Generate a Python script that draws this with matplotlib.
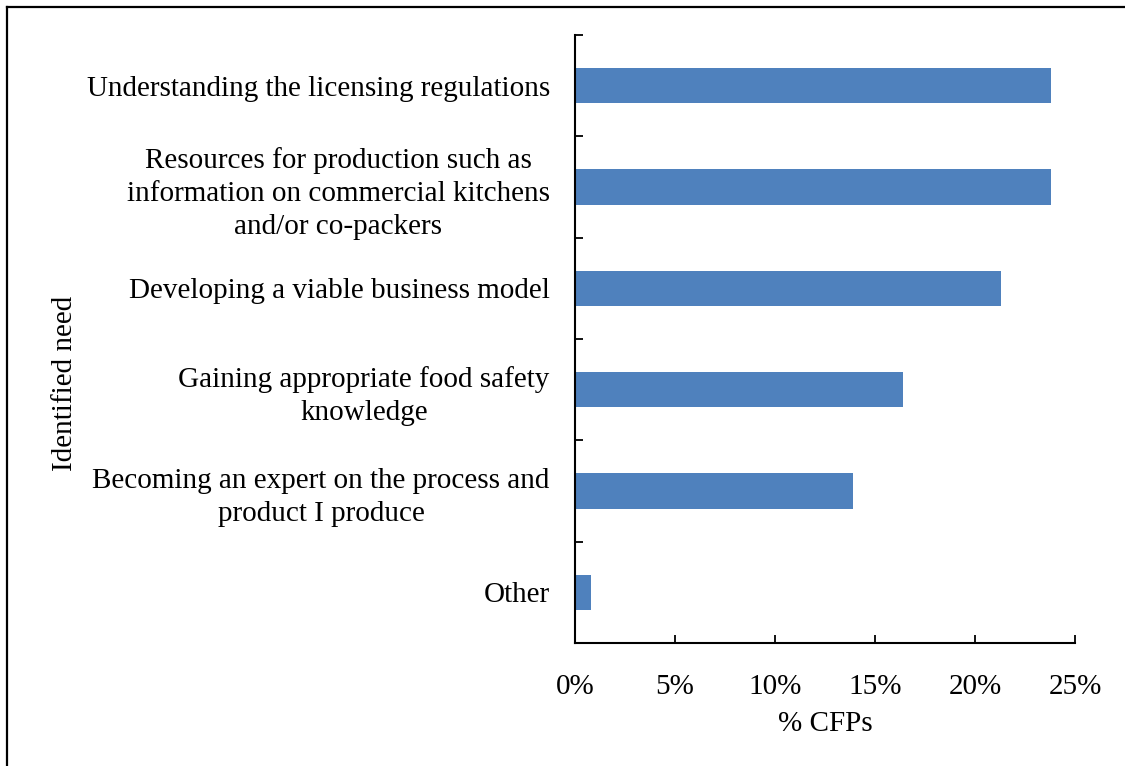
import matplotlib.pyplot as plt
import numpy as np
from matplotlib.lines import Line2D
from matplotlib.ticker import FuncFormatter, MultipleLocator

plt.rcParams["font.family"] = ["Liberation Serif", "DejaVu Serif"]

needs = [
    "Understanding the licensing regulations",
    "Resources for production such as\ninformation on commercial kitchens\nand/or co-packers",
    "Developing a viable business model",
    "Gaining appropriate food safety\nknowledge",
    "Becoming an expert on the process and\nproduct I produce",
    "Other",
]
share_cfps = [0.238, 0.238, 0.213, 0.164, 0.139, 0.008]

bar_color = "#4f81bd"
font_size = 21


def main() -> None:
    fig = plt.figure(figsize=(11.25, 7.66), dpi=100)
    ax = fig.add_axes([0.511, 0.1606, 0.4445, 0.7937])

    y = np.arange(len(needs))[::-1]
    ax.barh(y, share_cfps, height=0.35, color=bar_color, zorder=2)

    ax.set_xlim(0, 0.25)
    ax.set_ylim(-0.5, len(needs) - 0.5)
    ax.xaxis.set_major_locator(MultipleLocator(0.05))
    ax.xaxis.set_major_formatter(FuncFormatter(lambda v, _: f"{v * 100:.0f}%"))

    # category labels sit between the tick marks, ticks mark the boundaries
    ax.set_yticks(np.arange(-0.5, len(needs), 1.0))
    ax.set_yticklabels([])
    ax.set_yticks(y, labels=needs, minor=True)
    ax.tick_params(axis="y", which="minor", length=0, pad=18, labelsize=font_size)
    for label in ax.get_yticklabels(minor=True):
        label.set_multialignment("center")
        label.set_linespacing(1.34)
    ax.tick_params(axis="y", which="major", direction="in", length=6, width=1.3, color="black")
    ax.tick_params(axis="x", direction="in", length=6, width=1.3, pad=22, labelsize=font_size)

    for side in ("top", "right"):
        ax.spines[side].set_visible(False)
    for side in ("left", "bottom"):
        ax.spines[side].set_linewidth(1.5)

    ax.set_xlabel("% CFPs", fontsize=font_size, labelpad=8)
    fig.text(0.058, 0.5, "Identified need", rotation=90, fontsize=font_size, ha="center", va="center")

    # frame edge along the top and left of the figure
    fig.add_artist(Line2D([0.0064, 1.0], [0.9915, 0.9915], color="black", lw=1.6, transform=fig.transFigure))
    fig.add_artist(Line2D([0.0064, 0.0064], [0.0, 0.9915], color="black", lw=1.6, transform=fig.transFigure))

    fig.savefig("out.png", dpi=100, facecolor="white")
    plt.close(fig)


if __name__ == "__main__":
    main()
